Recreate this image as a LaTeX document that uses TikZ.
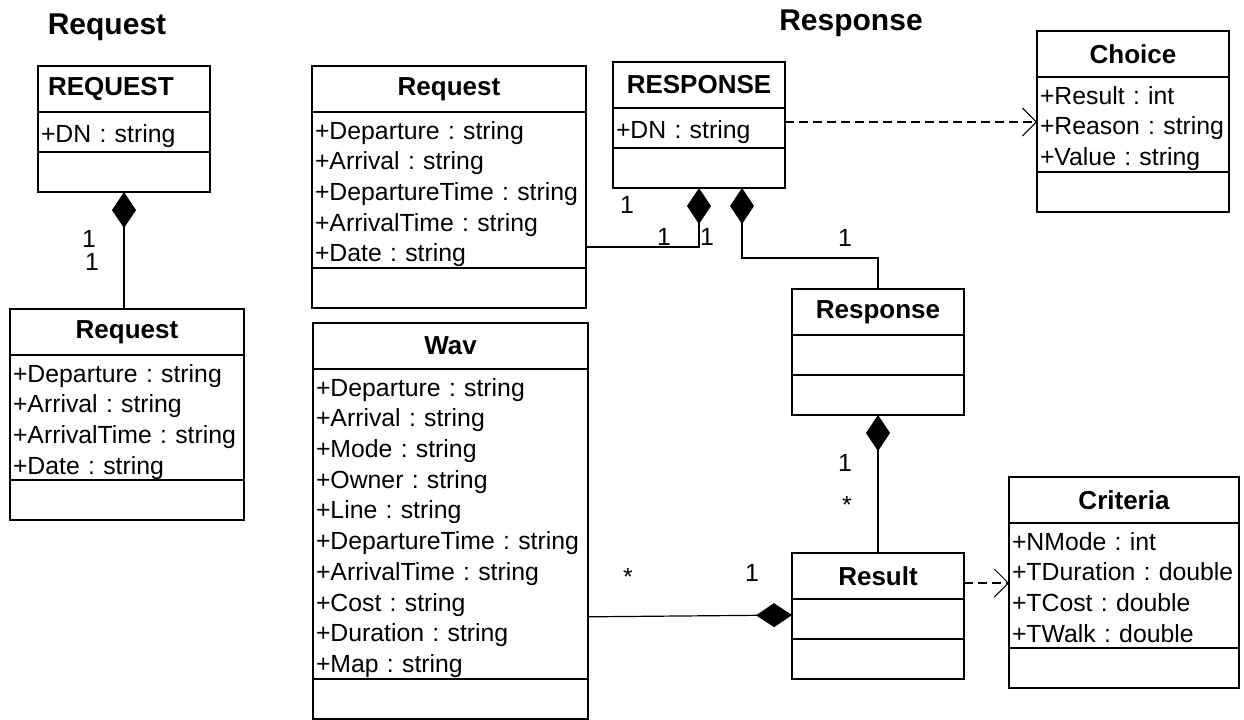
\documentclass[tikz,border=0pt]{standalone}
\usepackage{fontspec}
\setmainfont{Liberation Sans}[WordSpace=1.3]
\usepackage{tikz}
\usetikzlibrary{positioning,arrows.meta}
\frenchspacing

\begin{document}
\begin{tikzpicture}[x=0.5pt, y=-0.5pt,
  title/.style = {font=\bfseries\fontsize{15}{15}\selectfont},
  head/.style = {draw, line width=1pt, outer sep=0pt, minimum height=23pt, font=\bfseries\fontsize{13}{13}\selectfont},
  attr/.style = {draw, line width=1pt, outer sep=0pt, minimum height=20pt, align=left, inner xsep=1.5pt, inner ysep=0.5pt, text height=13pt, font=\fontsize{12.4}{15.36}\selectfont, execute at end node={\rule[-2.5pt]{0pt}{2.5pt}}},
  meth/.style = {draw, line width=1pt, outer sep=0pt, minimum height=20pt},
  mult/.style = {inner sep=0pt, font=\fontsize{12.4}{15}\selectfont},
  comp/.style = {line width=0.6pt, {Diamond[length=18pt,width=12pt]}-},
  dep/.style = {line width=1pt, dash pattern=on 4.5pt off 2.5pt, -{Straight Barb[length=7pt,width=14pt,line width=0.5pt]}}]
\useasboundingbox (0,0) rectangle (1244,719);

\node[title] (t1) at (107,27) {Request};
\node[title] (t2) at (851,23) {Response};

\node[head, anchor=north west, text width=76pt, inner xsep=5pt, align=left] (1) at (38,66) {REQUEST};
\node[attr, text width=83pt] (1a) [below=0pt of 1] {+DN : string};
\node[meth, minimum width=86pt] (1m) [below=0pt of 1a] {};

\node[head, anchor=north west, minimum width=117pt] (2) at (10,309) {Request};
\node[attr, text width=114pt] (2a) [below=0pt of 2] {+Departure : string\\+Arrival : string\\+ArrivalTime : string\\+Date : string};
\node[meth, minimum width=117pt] (2m) [below=0pt of 2a] {};

\node[head, anchor=north west, minimum width=137pt] (3) at (312,66) {Request};
\node[attr, text width=134pt] (3a) [below=0pt of 3] {+Departure : string\\+Arrival : string\\+DepartureTime : string\\+ArrivalTime : string\\+Date : string};
\node[meth, minimum width=137pt] (3m) [below=0pt of 3a] {};

\node[head, anchor=north west, minimum width=137.5pt] (4) at (313,323) {Wav};
\node[attr, text width=134.5pt] (4a) [below=0pt of 4] {+Departure : string\\+Arrival : string\\+Mode : string\\+Owner : string\\+Line : string\\+DepartureTime : string\\+ArrivalTime : string\\+Cost : string\\+Duration : string\\+Map : string};
\node[meth, minimum width=137.5pt] (4m) [below=0pt of 4a] {};

\node[head, anchor=north west, minimum width=86pt] (5) at (613,62) {RESPONSE};
\node[attr, text width=83pt] (5a) [below=0pt of 5] {+DN : string};
\node[meth, minimum width=86pt] (5m) [below=0pt of 5a] {};

\node[head, anchor=north west, minimum width=96pt] (6) at (1037,31) {Choice};
\node[attr, text width=93pt] (6a) [below=0pt of 6] {+Result : int\\+Reason : string\\+Value : string};
\node[meth, minimum width=96pt] (6m) [below=0pt of 6a] {};

\node[head, anchor=north west, minimum width=86pt] (7) at (792,289) {Response};
\node[meth, minimum width=86pt] (7a) [below=0pt of 7] {};
\node[meth, minimum width=86pt] (7m) [below=0pt of 7a] {};

\node[head, anchor=north west, minimum width=86pt] (8) at (792,553) {Result};
\node[meth, minimum width=86pt] (8a) [below=0pt of 8] {};
\node[meth, minimum width=86pt] (8m) [below=0pt of 8a] {};

\node[head, anchor=north west, minimum width=115pt] (9) at (1009,477) {Criteria};
\node[attr, text width=112pt] (9a) [below=0pt of 9] {+NMode : int\\+TDuration : double\\+TCost : double\\+TWalk : double};
\node[meth, minimum width=115pt] (9m) [below=0pt of 9a] {};

\draw[comp] (1m.south) -- (1m.south |- 2.north);
\draw[comp] (5m.south) |- ([yshift=10.5pt]3a.south east);
\draw[comp] ([xshift=21.5pt]5m.south) -- ++(0,-35pt) -| (7.north);
\draw[comp] (7m.south) -- (8.north);
\draw[comp] ([yshift=2pt]8a.west) -- ([yshift=-46.5pt]4a.east);
\draw[dep] ([yshift=3pt]5a.east) -- ([yshift=3pt]5a.east -| 6a.west);
\draw[dep] ([yshift=-3.5pt]8.east) -- ([yshift=-3.5pt]8.east -| 9a.west);

\node[mult] (m1) at (89,239) {1};
\node[mult] (m2) at (92,262) {1};
\node[mult] (m3) at (627,205) {1};
\node[mult] (m4) at (664,237) {1};
\node[mult] (m5) at (707,237) {1};
\node[mult] (m6) at (845,238) {1};
\node[mult] (m7) at (845,463) {1};
\node[mult] (m8) at (847,505) {*};
\node[mult] (m9) at (628,577) {*};
\node[mult] (m10) at (752,573) {1};
\end{tikzpicture}
\end{document}
